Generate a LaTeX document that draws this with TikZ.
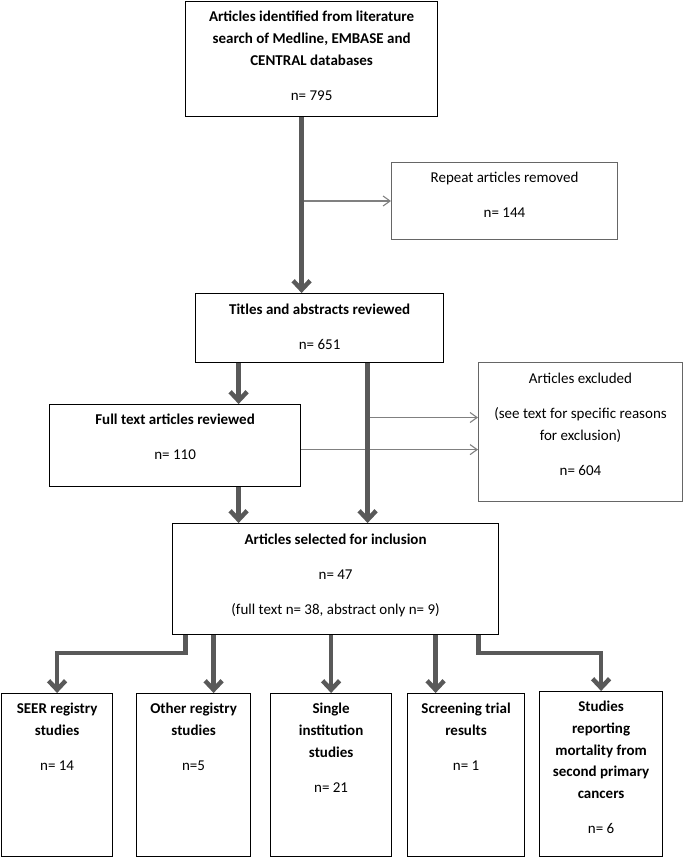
\documentclass[tikz,border=0pt]{standalone}
\usepackage{fontspec}
\setmainfont{Carlito}
\usetikzlibrary{arrows.meta,positioning}
\definecolor{arrgray}{HTML}{595959}
\definecolor{thingray}{HTML}{808080}

\begin{document}
\begin{tikzpicture}[x=1pt,y=-1pt,
		every node/.style={font=\fontsize{15pt}{21.7pt}\selectfont},
		box/.style={draw=black, line width=1.2pt, inner sep=0pt, anchor=north west},
		softbox/.style={box, draw=black!60, line width=1pt},
		bigarr/.style={draw=arrgray, line width=4.5pt, -{Straight Barb[length=9pt,width=17pt]}},
		smallarr/.style={draw=thingray, line width=1.1pt, -{Straight Barb[length=7pt,width=10pt]}}]
		\useasboundingbox (0,0) rectangle (683,857);
		%% search and removal of repeats
		\node[box] (src) at (185,1) {\parbox[t][115pt][t]{252pt}{\centering\vspace*{5pt}\strut\textbf{Articles identified from literature}\\ \textbf{search of Medline, EMBASE and}\\ \textbf{CENTRAL databases}\\[13.3pt] n= 795}};
		\node[softbox] (rep) at (391,162) {\parbox[t][77pt][t]{226pt}{\centering\vspace*{5pt}\strut Repeat articles removed\\[13.3pt] n= 144}};
		%% screening
		\node[box] (tit) at (195,293) {\parbox[t][69pt][t]{248pt}{\centering\vspace*{6pt}\strut\textbf{Titles and abstracts reviewed}\\[13.3pt] n= 651}};
		\node[box] (full) at (49,404) {\parbox[t][82pt][t]{251pt}{\centering\vspace*{5pt}\strut\textbf{Full text articles reviewed}\\[13.3pt] n= 110}};
		\node[softbox] (excl) at (478,362) {\parbox[t][139pt][t]{204pt}{\centering\vspace*{6pt}\strut Articles excluded\\[13.3pt] (see text for specific reasons\\ for exclusion)\\[13.3pt] n= 604}};
		\node[box] (sel) at (172,523) {\parbox[t][111pt][t]{326pt}{\centering\vspace*{6pt}\strut\textbf{Articles selected for inclusion}\\[13.3pt] n= 47\\[13.3pt] (full text n= 38, abstract only n= 9)}};
		%% study types
		\node[box] (seer) at (1,693) {\parbox[t][163pt][t]{111pt}{\centering\vspace*{5pt}\strut\textbf{SEER registry}\\ \textbf{studies}\\[13.3pt] n= 14}};
		\node[box] (oth) at (136,693) {\parbox[t][163pt][t]{114pt}{\centering\vspace*{5pt}\strut\textbf{Other registry}\\ \textbf{studies}\\[13.3pt] n=5}};
		\node[box] (sing) at (270,693) {\parbox[t][163pt][t]{121pt}{\centering\vspace*{5pt}\strut\textbf{Single}\\ \textbf{institution}\\ \textbf{studies}\\[13.3pt] n= 21}};
		\node[box] (scr) at (407,693) {\parbox[t][163pt][t]{117pt}{\centering\vspace*{5pt}\strut\textbf{Screening trial}\\ \textbf{results}\\[13.3pt] n= 1}};
		\node[box] (stu) at (539,691) {\parbox[t][165pt][t]{123pt}{\centering\vspace*{5pt}\strut\textbf{Studies}\\ \textbf{reporting}\\ \textbf{mortality from}\\ \textbf{second primary}\\ \textbf{cancers}\\[13.3pt] n= 6}};
		\coordinate (midcol) at ([xshift=48pt]tit.south);
		%% thin arrows first so the thick ones sit on top
		\draw[smallarr] ([xshift=-10pt]src.south |- rep.west) -- (rep.west);
		\draw[smallarr] ([yshift=14.5pt]excl.west -| midcol) -- ([yshift=14.5pt]excl.west);
		\draw[smallarr] ([yshift=-4pt]full.east) -- ([yshift=-4pt]full.east -| excl.west);
		\draw[bigarr] ([xshift=-10pt]src.south) -- ([xshift=-10pt]src.south |- tit.north);
		\draw[bigarr] ([xshift=-81pt]tit.south) -- ([xshift=-81pt]tit.south |- full.north);
		\draw[bigarr] (midcol) -- (midcol |- sel.north);
		\draw[bigarr] ([xshift=63.5pt]full.south) -- ([xshift=63.5pt]full.south |- sel.north);
		%% branches to the five groups
		\draw[bigarr] ([xshift=-150pt]sel.south) -- ++(0,18) -| (seer.north);
		\draw[bigarr] ([xshift=-122pt]sel.south) -- ([xshift=-122pt]sel.south |- oth.north);
		\draw[bigarr] (sing.north |- sel.south) -- (sing.north);
		\draw[bigarr] ([xshift=100pt]sel.south) -- ([xshift=100pt]sel.south |- scr.north);
		\draw[bigarr] ([xshift=143pt]sel.south) -- ++(0,18) -| (stu.north);
	\end{tikzpicture}
\end{document}
